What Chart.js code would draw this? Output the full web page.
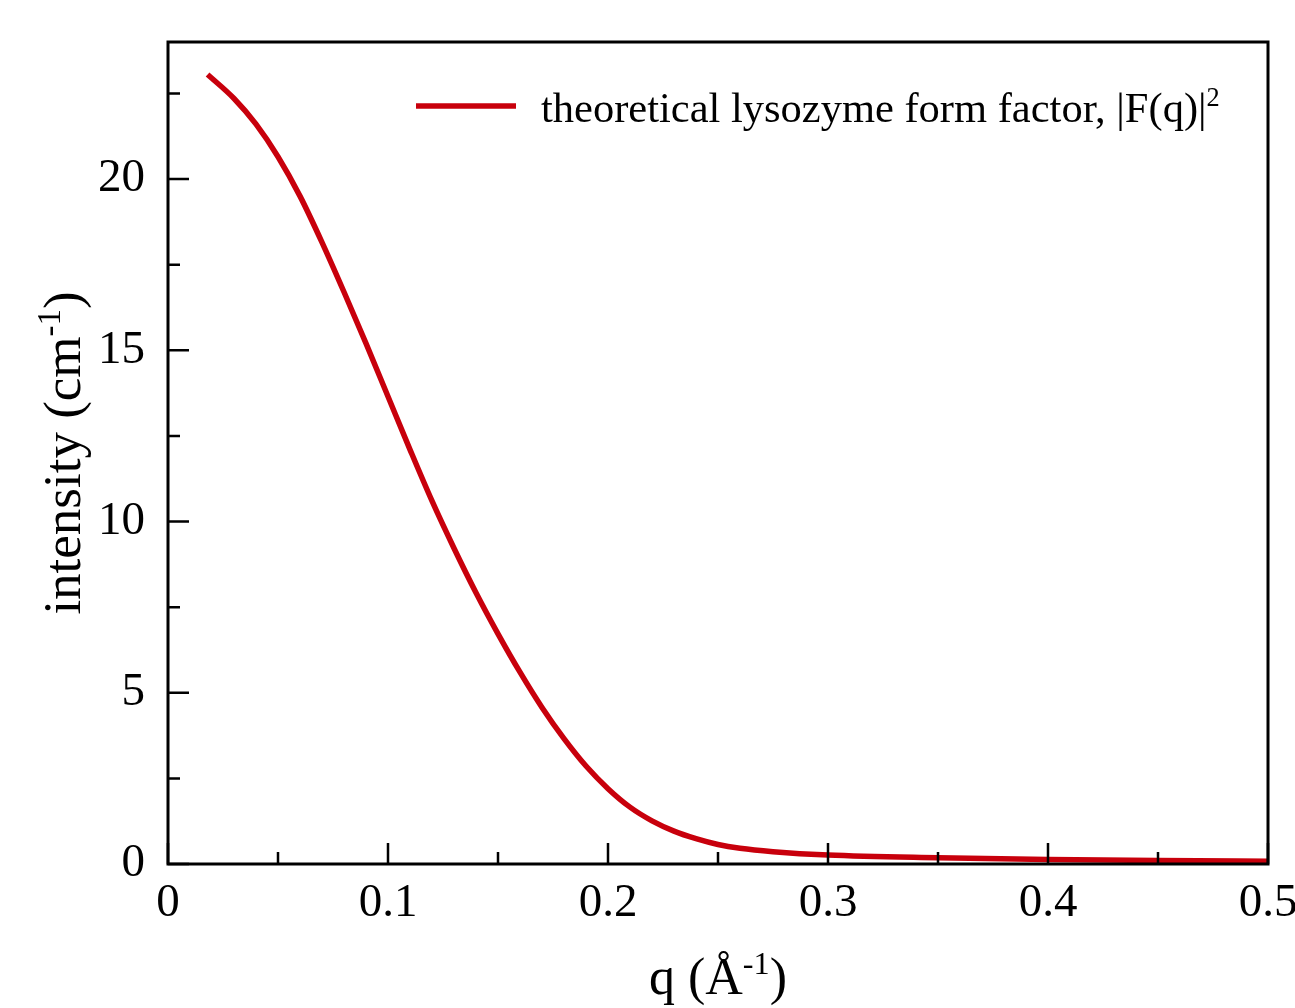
<!DOCTYPE html>
<html>
<head>
<meta charset="utf-8">
<script src="https://cdn.jsdelivr.net/npm/chart.js@4.4.1/dist/chart.umd.min.js"></script>
<style>
  html,body{margin:0;padding:0;background:#fff;}
  #wrap{width:1295px;height:1008px;position:relative;}
</style>
</head>
<body>
<div id="wrap"><canvas id="chart" width="1295" height="1008"></canvas></div>
<script>
// q (1/Å) and intensity (1/cm)
const qValues   = [0.018, 0.030, 0.040, 0.050, 0.060, 0.070, 0.080, 0.090, 0.100, 0.110,
                   0.120, 0.130, 0.140, 0.150, 0.160, 0.170, 0.180, 0.190, 0.200, 0.210,
                   0.220, 0.230, 0.240, 0.250, 0.260, 0.275, 0.300, 0.350, 0.400, 0.450, 0.500];
const intensity = [23.05, 22.35, 21.60, 20.65, 19.50, 18.15, 16.70, 15.20, 13.65, 12.10,
                   10.60, 9.22, 7.92, 6.72, 5.60, 4.57, 3.66, 2.86, 2.20, 1.66,
                   1.26, 0.96, 0.74, 0.57, 0.46, 0.36, 0.26, 0.18, 0.13, 0.10, 0.08];
const xTickLabels = ['0', '0.1', '0.2', '0.3', '0.4', '0.5'];
const yTickLabels = ['0', '5', '10', '15', '20'];
const seriesLabel = 'theoretical lysozyme form factor, |F(q)|';

const FONT = '"Liberation Serif", "Times New Roman", serif';
const RED = '#c8000c';

// draws text made of normal + superscript pieces
function drawRich(ctx, parts, x, y, size, align){
  const w = parts.reduce((s,p)=>{
    ctx.font = `${p.sup ? size*0.62 : size}px ${FONT}`;
    return s + ctx.measureText(p.t).width;
  },0);
  let cx = align==='left' ? x : x - w/2;
  parts.forEach(p=>{
    ctx.font = `${p.sup ? size*0.62 : size}px ${FONT}`;
    ctx.fillText(p.t, cx, p.sup ? y - size*0.38 : y);
    cx += ctx.measureText(p.t).width;
  });
}

const framePlugin = {
  id:'frame',
  afterDraw(chart){
    const {ctx, chartArea:a, scales:{x,y}} = chart;
    ctx.save();
    ctx.strokeStyle = '#000';
    ctx.lineWidth = 3;
    ctx.strokeRect(a.left, a.top, a.right-a.left, a.bottom-a.top);

    // inward ticks, major + minor
    ctx.lineWidth = 2.5;
    ctx.beginPath();
    for(let i=0;i<=10;i++){
      const px = x.getPixelForValue(i*0.05);
      const len = i%2===0 ? 21 : 12;
      ctx.moveTo(px, a.bottom); ctx.lineTo(px, a.bottom-len);
    }
    for(let i=0;i<=9;i++){
      const py = y.getPixelForValue(i*2.5);
      const len = i%2===0 ? 21 : 12;
      ctx.moveTo(a.left, py); ctx.lineTo(a.left+len, py);
    }
    ctx.stroke();

    // axis titles
    ctx.fillStyle = '#000';
    ctx.textBaseline = 'alphabetic';
    ctx.textAlign = 'left';
    drawRich(ctx, [{t:'q (Å'},{t:'-1',sup:true},{t:')'}], (a.left+a.right)/2, 994, 52);
    ctx.save();
    ctx.translate(80, (a.top+a.bottom)/2);
    ctx.rotate(-Math.PI/2);
    drawRich(ctx, [{t:'intensity (cm'},{t:'-1',sup:true},{t:')'}], 0, 0, 53);
    ctx.restore();

    // legend
    const ds = chart.data.datasets[0];
    ctx.strokeStyle = ds.borderColor;
    ctx.lineWidth = ds.borderWidth;
    ctx.beginPath(); ctx.moveTo(416,106); ctx.lineTo(516,106); ctx.stroke();
    drawRich(ctx, [{t:ds.label},{t:'2',sup:true}], 541, 122, 42.5, 'left');
    ctx.restore();
  }
};

new Chart(document.getElementById('chart'), {
  type:'line',
  data:{
    datasets:[{
      label: seriesLabel,
      data: qValues.map((q,i)=>({x:q, y:intensity[i]})),
      borderColor: RED,
      borderWidth: 5.5,
      pointRadius: 0,
      fill: false,
      cubicInterpolationMode: 'monotone'
    }]
  },
  options:{
    responsive:false,
    animation:false,
    layout:{padding:{top:42, right:27, left:0, bottom:0}},
    plugins:{legend:{display:false}, tooltip:{enabled:false}},
    scales:{
      x:{
        type:'linear', min:0, max:0.5,
        afterFit(s){ s.height = 144; s.paddingLeft = 0; s.paddingRight = 0; },
        grid:{display:false, drawTicks:false},
        border:{display:false},
        ticks:{
          stepSize:0.1, padding:11, color:'#000', maxRotation:0,
          font:{family:FONT, size:47},
          callback:(v)=>xTickLabels[Math.round(v*10)] ?? ''
        }
      },
      y:{
        type:'linear', min:0, max:24,
        afterFit(s){ s.width = 168; s.paddingTop = 0; s.paddingBottom = 0; },
        grid:{display:false, drawTicks:false},
        border:{display:false},
        ticks:{
          stepSize:5, includeBounds:false, padding:23, color:'#000',
          font:{family:FONT, size:47},
          callback:(v)=>yTickLabels[Math.round(v/5)] ?? ''
        }
      }
    }
  },
  plugins:[framePlugin]
});
</script>
</body>
</html>
